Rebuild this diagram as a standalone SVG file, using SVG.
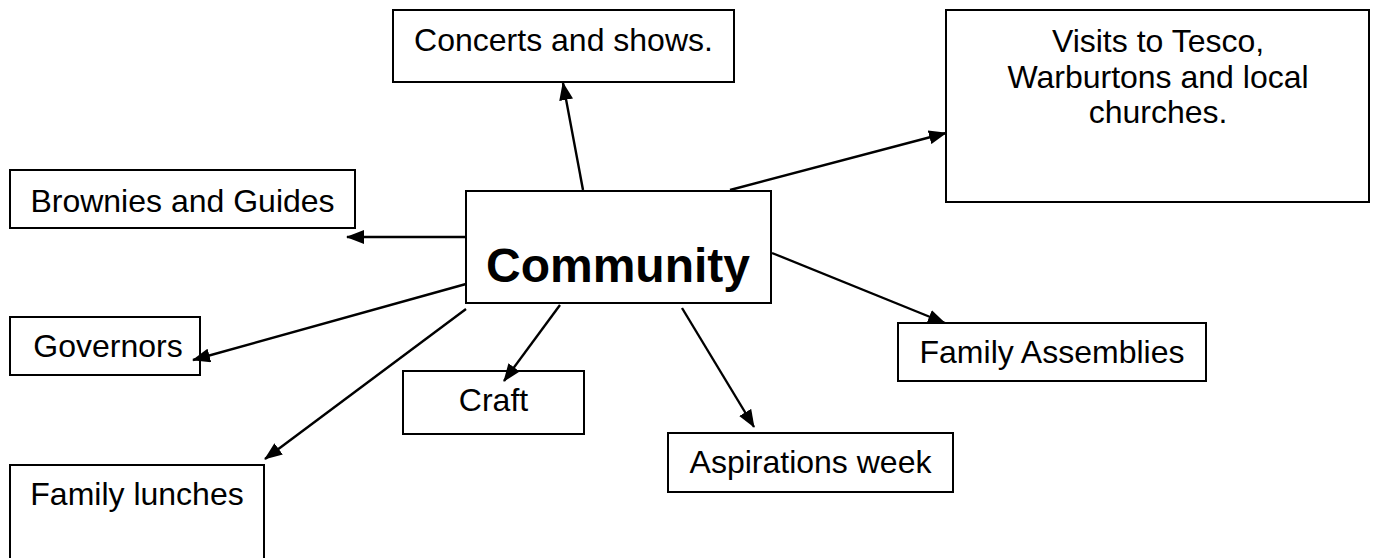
<svg xmlns="http://www.w3.org/2000/svg" width="1373" height="558" viewBox="0 0 1373 558">
<style>
.box{fill:#fff;stroke:#000;stroke-width:2}
.t{font-family:"Liberation Sans",Arial,sans-serif;font-size:32px;fill:#000;text-anchor:middle}
.big{font-size:48px;font-weight:bold}
.c{stroke:#000;stroke-width:2.4;fill:none;marker-end:url(#ah)}
</style>
<defs>
<marker id="ah" viewBox="0 0 18 14" refX="17" refY="7" markerWidth="18" markerHeight="14" markerUnits="userSpaceOnUse" orient="auto">
<path d="M0,0 L18,7 L0,14 z" fill="#000"/>
</marker>
</defs>
<rect width="1373" height="558" fill="#fff"/>
<g id="community">
<rect class="box" x="466" y="191" width="305" height="112"/>
<text class="t big" x="618" y="282">Community</text>
</g>
<g id="concerts">
<rect class="box" x="393" y="10" width="341" height="72"/>
<text class="t" x="563.5" y="51">Concerts and shows.</text>
</g>
<g id="visits">
<rect class="box" x="946" y="10" width="423" height="192"/>
<text class="t" x="1158" y="52">Visits to Tesco,</text>
<text class="t" x="1158" y="88">Warburtons and local</text>
<text class="t" x="1158" y="123">churches.</text>
</g>
<g id="brownies">
<rect class="box" x="10" y="170" width="345" height="58"/>
<text class="t" x="182.5" y="212">Brownies and Guides</text>
</g>
<g id="governors">
<rect class="box" x="10" y="317" width="190" height="58"/>
<text class="t" x="108" y="357">Governors</text>
</g>
<g id="family-lunches">
<rect class="box" x="10" y="465" width="254" height="110"/>
<text class="t" x="137" y="505">Family lunches</text>
</g>
<g id="craft">
<rect class="box" x="403" y="371" width="181" height="63"/>
<text class="t" x="493.5" y="411">Craft</text>
</g>
<g id="aspirations">
<rect class="box" x="668" y="433" width="285" height="59"/>
<text class="t" x="810.5" y="473">Aspirations week</text>
</g>
<g id="family-assemblies">
<rect class="box" x="898" y="323" width="308" height="58"/>
<text class="t" x="1052" y="363">Family Assemblies</text>
</g>
<g id="connectors">
<line class="c" x1="583" y1="190" x2="563" y2="83"/>
<line class="c" x1="730" y1="190" x2="946" y2="133"/>
<line class="c" x1="466" y1="237" x2="347" y2="237"/>
<line class="c" x1="466" y1="284" x2="193" y2="360"/>
<line class="c" x1="466" y1="309" x2="265" y2="459"/>
<line class="c" x1="560" y1="305" x2="504" y2="381"/>
<line class="c" x1="682" y1="308" x2="754" y2="427"/>
<line class="c" x1="772" y1="253" x2="945" y2="323"/>
</g>
</svg>
